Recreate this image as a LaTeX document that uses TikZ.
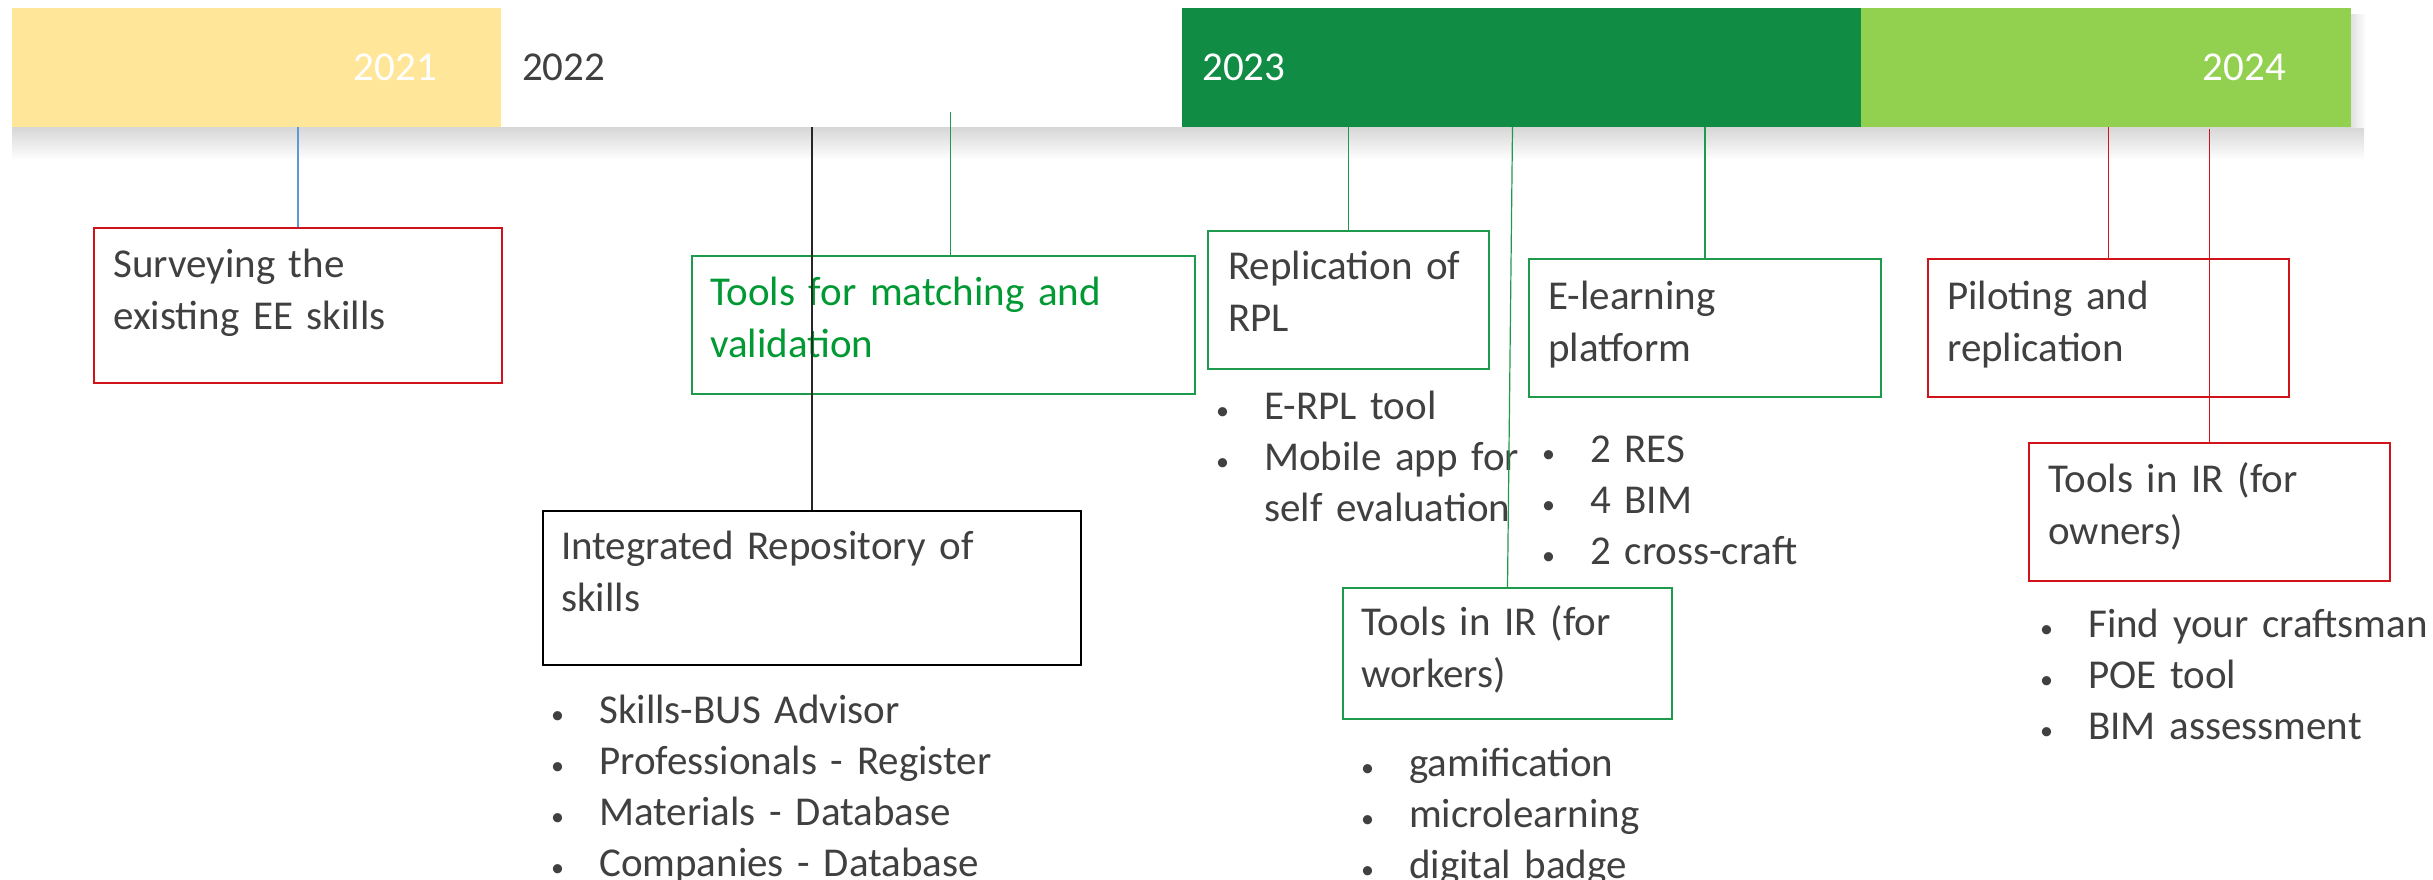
\documentclass[tikz,border=0pt]{standalone}
\usepackage{fontspec}
\setmainfont[WordSpace=0.85]{Carlito}
\usepackage{xcolor}
\usetikzlibrary{positioning}
\definecolor{yrYellow}{HTML}{FFE699}
\definecolor{yrGreen}{HTML}{108C44}
\definecolor{yrLight}{HTML}{92D050}
\definecolor{boxRed}{HTML}{D0121B}
\definecolor{boxGreen}{HTML}{1E9A4C}
\definecolor{txtGreen}{HTML}{009933}
\definecolor{txtGray}{HTML}{404040}
\definecolor{lnBlue}{HTML}{5B9BD5}
\newcommand\bigtxt{\fontsize{41}{52}\selectfont}
\newcommand\listtxt{\fontsize{41}{51}\selectfont}
\newcommand\bul{\makebox[44pt][l]{\hspace*{-4pt}\fontsize{26}{26}\selectfont•}}
\tikzstyle{year} = [rectangle, minimum height=119, inner sep=0, outer sep=0, draw=none, anchor=north west]
\tikzstyle{yeartext} = [font=\bigtxt, inner sep=0, text=white]
\tikzstyle{redbox} = [rectangle, draw=boxRed, line width=2, fill=white, anchor=north west]
\tikzstyle{greenbox} = [rectangle, draw=boxGreen, line width=2, fill=white, anchor=north west]
\tikzstyle{blackbox} = [rectangle, draw=black, line width=2.2, fill=white, anchor=north west]
\tikzstyle{txt} = [text width=600, align=left, anchor=base west, inner sep=0, font=\bigtxt, text=txtGray]
\tikzstyle{items} = [text width=600, align=left, anchor=base west, inner sep=0, font=\listtxt, text=txtGray]
\tikzstyle{redline} = [draw=boxRed, line width=1.2]
\tikzstyle{greenline} = [draw=boxGreen, line width=1.2]
\tikzstyle{blueline} = [draw=lnBlue, line width=1.2]
\tikzstyle{blackline} = [draw=black!85, line width=1.4]

\begin{document}
\begin{tikzpicture}[x=1pt, y=-1pt, node distance=0]
	\useasboundingbox (0,0) rectangle (2433,879);
	\shade[top color=black!16, bottom color=white] (12,127) rectangle (2364,160);
	\shade[left color=black!12, right color=white] (2351,14) rectangle (2366,127);

	\node (y21) [year, fill=yrYellow, minimum width=489] at (12,8) {};
	\node (y22) [year, fill=white, minimum width=681, right=of y21] {};
	\node (y23) [year, fill=yrGreen, minimum width=679, right=of y22] {};
	\node (y24) [year, fill=yrLight, minimum width=490, right=of y23] {};
	\node (t21) [yeartext, anchor=east] at ([xshift=-64]y21.east) {2021};
	\node (t22) [yeartext, anchor=west, text=txtGray] at ([xshift=21]y22.west) {2022};
	\node (t23) [yeartext, anchor=west] at ([xshift=20]y23.west) {2023};
	\node (t24) [yeartext, anchor=east] at ([xshift=-65]y24.east) {2024};

	\node (surv) [redbox, minimum width=408, minimum height=155] at (93,227) {};
	\node (match) [greenbox, minimum width=503, minimum height=138] at (691,255) {};
	\node (repo) [blackbox, minimum width=538, minimum height=154] at (542,510) {};
	\node (rpl) [greenbox, minimum width=281, minimum height=138] at (1207,230) {};
	\node (elearn) [greenbox, minimum width=352, minimum height=138] at (1528,258) {};
	\node (work) [greenbox, minimum width=329, minimum height=131] at (1342,587) {};
	\node (pilot) [redbox, minimum width=361, minimum height=138] at (1927,258) {};
	\node (own) [redbox, minimum width=361, minimum height=138] at (2028,442) {};

	\node (survT) [txt] at ([shift={(20,50)}]surv.north west) {Surveying the\\existing EE skills};
	\node (matchT) [txt, text=txtGreen] at ([shift={(19,50)}]match.north west) {Tools for matching and\\validation};
	\node (repoT) [txt] at ([shift={(19,49)}]repo.north west) {Integrated Repository of\\skills};
	\node (rplT) [txt] at ([shift={(21,49)}]rpl.north west) {Replication of\\RPL};
	\node (elearnT) [txt] at ([shift={(20,51)}]elearn.north west) {E-learning\\platform};
	\node (workT) [txt] at ([shift={(19,48)}]work.north west) {Tools in IR (for\\workers)};
	\node (pilotT) [txt] at ([shift={(20,51)}]pilot.north west) {Piloting and\\replication};
	\node (ownT) [txt] at ([shift={(20,50)}]own.north west) {Tools in IR (for\\owners)};

	\node (repoL) [items] at ([shift={(13,57)}]repo.south west) {\bul Skills-BUS Advisor\\\bul Professionals - Register\\\bul Materials - Database\\\bul Companies - Database};
	\node (rplL) [items] at ([shift={(13,49)}]rpl.south west) {\bul E-RPL tool\\\bul Mobile app for\\\hspace*{44pt}self evaluation};
	\node (elearnL) [items] at ([shift={(18,64)}]elearn.south west) {\bul 2 RES\\\bul 4 BIM\\\bul 2 cross-craft};
	\node (workL) [items] at ([shift={(23,56)}]work.south west) {\bul gamification\\\bul microlearning\\\bul digital badge};
	\node (ownL) [items] at ([shift={(16,55)}]own.south west) {\bul Find your craftsman\\\bul POE tool\\\bul BIM assessment};

	\draw [blueline] (surv.north) -- (surv.north |- y21.south);
	\draw [greenline] ([xshift=7]match.north) -- ([xshift=7, yshift=15]match.north |- y22.south);
	\draw [blackline] (repo.north) -- (repo.north |- y22.south);
	\draw [greenline] (rpl.north) -- (rpl.north |- y23.south);
	\draw [greenline] (elearn.north) -- (elearn.north |- y23.south);
	\draw [greenline] (work.north) -- ([xshift=5]work.north |- y23.south);
	\draw [redline] (pilot.north) -- (pilot.north |- y24.south);
	\draw [redline] (own.north) -- ([yshift=-2]own.north |- y24.south);
\end{tikzpicture}
\end{document}
